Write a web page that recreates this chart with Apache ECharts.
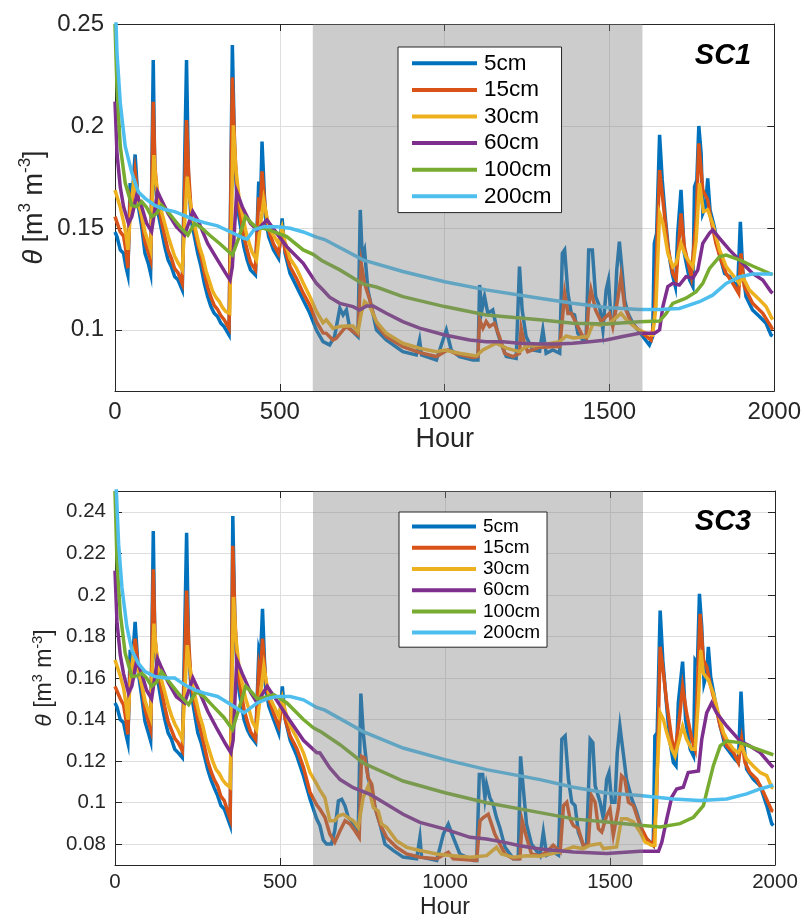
<!DOCTYPE html>
<html>
<head>
<meta charset="utf-8">
<script src="https://cdn.jsdelivr.net/npm/echarts@6/dist/echarts.min.js"></script>
<style>
  html, body { margin: 0; padding: 0; background: #ffffff; }
  #chart { width: 804px; height: 920px; }
</style>
</head>
<body>
<div id="chart"></div>
<script>
// Sensor depths and their line colours
const depths = ['5cm', '15cm', '30cm', '60cm', '100cm', '200cm'];
const lineColors = ['#0072BD', '#D95319', '#EDB120', '#7E2F8E', '#77AC30', '#4DBEEE'];

// Shaded period (hours)
const shadedPeriod = [600, 1600];

// Axis ticks
const hourTicks = [0, 500, 1000, 1500, 2000];
const sc1ThetaTicks = [0.1, 0.15, 0.2, 0.25];
const sc3ThetaTicks = [0.08, 0.1, 0.12, 0.14, 0.16, 0.18, 0.2, 0.22, 0.24];
const thetaRange = [0.07, 0.25];

// Panel labels
const panelNames = ['SC1', 'SC3'];

// ---- SC1: soil water content [hour, theta] ----
const sc1_5cm = [[0,0.148],[6,0.1457],[16,0.1392],[26,0.1375],[33,0.131],[39,0.1269],[46,0.172],[52,0.165],[61,0.186],[71,0.1604],[81,0.1506],[91,0.1375],[101,0.1326],[108,0.1277],[116,0.2323],[121,0.1735],[131,0.1571],[141,0.149],[151,0.1408],[161,0.1343],[171,0.131],[181,0.1261],[191,0.1245],[204,0.1196],[217,0.2323],[223,0.1735],[231,0.1539],[241,0.1457],[251,0.1375],[261,0.131],[271,0.1228],[281,0.1163],[291,0.1114],[301,0.1081],[311,0.1065],[321,0.1032],[331,0.1016],[346,0.0975],[356,0.2397],[363,0.1866],[371,0.1604],[381,0.1506],[391,0.1408],[401,0.1343],[411,0.1294],[426,0.1269],[436,0.1727],[441,0.16],[446,0.1923],[456,0.1555],[466,0.1457],[481,0.1392],[496,0.1351],[507,0.1547],[516,0.1375],[531,0.1277],[551,0.1212],[571,0.1146],[591,0.1081],[611,0.0999],[631,0.0942],[651,0.0926],[666,0.0967],[682,0.1106],[692,0.1073],[702,0.1098],[712,0.1008],[722,0.0991],[737,0.0967],[744,0.1588],[750,0.1359],[757,0.1392],[767,0.1196],[778,0.1114],[793,0.1],[823,0.095],[873,0.0893],[914,0.0877],[924,0.095],[930,0.0877],[975,0.0852],[1005,0.0999],[1020,0.0901],[1045,0.0869],[1086,0.0852],[1101,0.0852],[1106,0.122],[1113,0.1098],[1121,0.1163],[1131,0.1081],[1146,0.1098],[1161,0.0983],[1171,0.0934],[1187,0.0869],[1217,0.086],[1227,0.131],[1235,0.1098],[1247,0.0967],[1267,0.0901],[1288,0.0895],[1298,0.1],[1308,0.0885],[1328,0.0901],[1349,0.0885],[1357,0.1375],[1364,0.1392],[1374,0.1179],[1384,0.1081],[1394,0.1073],[1404,0.0983],[1419,0.095],[1429,0.095],[1437,0.1392],[1448,0.1392],[1458,0.1163],[1470,0.1114],[1480,0.1],[1490,0.1196],[1497,0.1245],[1505,0.1049],[1515,0.1049],[1522,0.1294],[1530,0.1433],[1538,0.1294],[1546,0.1147],[1556,0.1081],[1571,0.1032],[1586,0.1],[1601,0.0967],[1621,0.0926],[1631,0.0967],[1636,0.1424],[1643,0.1473],[1652,0.1956],[1660,0.1735],[1670,0.1539],[1680,0.1375],[1690,0.1277],[1700,0.1212],[1707,0.1473],[1717,0.1686],[1727,0.1375],[1743,0.1245],[1753,0.1212],[1758,0.1702],[1765,0.1735],[1771,0.2],[1778,0.1866],[1783,0.1571],[1791,0.1604],[1798,0.1743],[1805,0.1588],[1818,0.1506],[1833,0.1375],[1849,0.1277],[1864,0.1261],[1879,0.1228],[1889,0.1212],[1897,0.153],[1904,0.1294],[1914,0.1163],[1934,0.1097],[1955,0.1065],[1975,0.1032],[1990,0.0975],[1995,0.097]];

const sc1_15cm = [[0,0.1555],[16,0.148],[26,0.146],[33,0.139],[39,0.1302],[46,0.165],[52,0.162],[61,0.1777],[71,0.164],[81,0.155],[91,0.143],[101,0.138],[108,0.1343],[116,0.2119],[121,0.18],[131,0.162],[141,0.153],[151,0.146],[161,0.139],[171,0.135],[181,0.13],[191,0.128],[204,0.1228],[217,0.2029],[223,0.178],[231,0.158],[241,0.15],[251,0.142],[261,0.136],[271,0.128],[281,0.121],[291,0.116],[301,0.112],[311,0.11],[321,0.107],[331,0.105],[346,0.1007],[356,0.2238],[363,0.19],[371,0.165],[381,0.155],[391,0.146],[401,0.139],[411,0.133],[426,0.1294],[436,0.165],[441,0.158],[446,0.1777],[456,0.159],[466,0.149],[481,0.142],[496,0.1375],[507,0.1485],[516,0.139],[531,0.131],[551,0.125],[571,0.118],[591,0.112],[611,0.104],[631,0.0985],[641,0.0983],[661,0.095],[671,0.0958],[692,0.1],[702,0.1016],[722,0.0991],[737,0.0975],[747,0.1326],[757,0.1228],[773,0.1147],[783,0.1081],[798,0.1016],[823,0.0967],[873,0.0918],[924,0.0888],[975,0.0869],[1000,0.0893],[1010,0.0901],[1035,0.0882],[1086,0.0865],[1101,0.0869],[1106,0.1049],[1116,0.1008],[1126,0.1041],[1136,0.1016],[1151,0.1032],[1166,0.0967],[1182,0.0885],[1207,0.0869],[1227,0.0885],[1232,0.1008],[1242,0.0934],[1252,0.0893],[1288,0.0915],[1349,0.0918],[1357,0.105],[1364,0.1179],[1374,0.108],[1384,0.1081],[1394,0.1049],[1419,0.0967],[1430,0.096],[1437,0.112],[1444,0.1196],[1458,0.1097],[1475,0.104],[1490,0.1065],[1500,0.1081],[1510,0.1016],[1525,0.115],[1535,0.1261],[1546,0.1114],[1566,0.1032],[1601,0.0983],[1626,0.095],[1636,0.1049],[1643,0.1375],[1652,0.1784],[1662,0.1637],[1677,0.1408],[1692,0.1277],[1702,0.1245],[1717,0.1571],[1727,0.1408],[1748,0.1261],[1763,0.1539],[1771,0.1915],[1783,0.1686],[1798,0.1637],[1808,0.1539],[1823,0.1424],[1838,0.1343],[1854,0.1277],[1874,0.1228],[1892,0.1179],[1899,0.1375],[1909,0.1212],[1934,0.113],[1965,0.1081],[1990,0.1016],[1995,0.1]];

const sc1_30cm = [[0,0.1686],[16,0.16],[26,0.153],[33,0.147],[39,0.1392],[46,0.155],[56,0.1719],[66,0.165],[81,0.156],[91,0.148],[101,0.143],[108,0.1392],[118,0.1857],[123,0.175],[131,0.165],[141,0.158],[151,0.152],[161,0.146],[171,0.141],[181,0.136],[191,0.133],[204,0.1294],[219,0.1751],[226,0.165],[236,0.155],[246,0.148],[256,0.141],[266,0.136],[276,0.129],[286,0.124],[296,0.119],[306,0.116],[316,0.114],[326,0.111],[336,0.109],[348,0.1081],[359,0.2003],[366,0.18],[376,0.165],[386,0.157],[396,0.149],[406,0.143],[416,0.138],[429,0.1343],[440,0.15],[451,0.1637],[461,0.155],[471,0.149],[486,0.145],[496,0.1424],[507,0.15],[516,0.143],[531,0.135],[551,0.13],[571,0.123],[591,0.1163],[611,0.109],[631,0.1035],[641,0.1049],[661,0.1008],[682,0.1016],[702,0.1019],[722,0.1019],[737,0.099],[747,0.1081],[757,0.1139],[773,0.1114],[793,0.104],[823,0.0983],[873,0.0934],[924,0.091],[975,0.0893],[1000,0.0901],[1045,0.0885],[1096,0.0872],[1116,0.0901],[1156,0.0934],[1187,0.091],[1227,0.0893],[1247,0.0918],[1288,0.0925],[1349,0.0942],[1369,0.097],[1390,0.096],[1434,0.0967],[1450,0.103],[1470,0.1024],[1500,0.1032],[1535,0.1081],[1551,0.1049],[1581,0.1008],[1611,0.0983],[1631,0.0975],[1641,0.1114],[1652,0.1571],[1662,0.1522],[1677,0.1375],[1692,0.131],[1702,0.1326],[1717,0.1424],[1732,0.1359],[1753,0.131],[1763,0.1441],[1773,0.1719],[1785,0.158],[1798,0.1588],[1813,0.1522],[1834,0.1392],[1854,0.131],[1874,0.1269],[1894,0.1228],[1904,0.1261],[1924,0.1196],[1955,0.1147],[1975,0.1114],[1990,0.1065],[1995,0.105]];

const sc1_60cm = [[0,0.2119],[6,0.1866],[16,0.17],[26,0.1604],[41,0.1522],[51,0.1555],[66,0.1661],[81,0.1604],[96,0.1522],[111,0.1482],[129,0.1678],[141,0.1637],[161,0.1571],[186,0.1506],[211,0.1465],[236,0.158],[251,0.1539],[281,0.1424],[311,0.1343],[336,0.1277],[349,0.1244],[356,0.131],[369,0.1678],[386,0.1604],[411,0.1522],[431,0.149],[461,0.1539],[491,0.1473],[521,0.1408],[571,0.1326],[611,0.1228],[631,0.1195],[651,0.116],[682,0.113],[722,0.1114],[742,0.1097],[763,0.1117],[783,0.1117],[823,0.1081],[873,0.104],[924,0.1008],[1000,0.0975],[1076,0.095],[1126,0.0942],[1177,0.0942],[1227,0.0934],[1288,0.0931],[1339,0.0931],[1389,0.0934],[1440,0.0942],[1490,0.095],[1540,0.0967],[1591,0.0983],[1637,0.0983],[1652,0.1],[1662,0.1114],[1677,0.1212],[1692,0.1228],[1712,0.122],[1732,0.1261],[1753,0.1253],[1768,0.1294],[1783,0.1424],[1803,0.1473],[1813,0.149],[1834,0.1449],[1864,0.1392],[1894,0.1343],[1934,0.1277],[1965,0.1244],[1990,0.1187],[1995,0.118]];

const sc1_100cm = [[0,0.25],[6,0.219],[16,0.19],[31,0.172],[51,0.161],[66,0.1604],[81,0.1629],[96,0.16],[111,0.1555],[126,0.157],[141,0.1612],[160,0.158],[180,0.154],[200,0.15],[221,0.1465],[241,0.1522],[260,0.1503],[290,0.146],[320,0.142],[356,0.1367],[375,0.145],[396,0.1555],[415,0.1522],[431,0.1498],[451,0.1498],[481,0.1482],[521,0.1457],[571,0.1392],[601,0.137],[627,0.134],[682,0.1294],[752,0.1225],[793,0.121],[873,0.1163],[1000,0.1114],[1126,0.1073],[1288,0.1049],[1389,0.1032],[1490,0.1029],[1591,0.104],[1652,0.1043],[1672,0.108],[1692,0.113],[1732,0.1155],[1763,0.1187],[1783,0.1228],[1803,0.13],[1834,0.1359],[1854,0.1367],[1894,0.1343],[1934,0.1313],[1990,0.1274],[1995,0.127]];

const sc1_200cm = [[0,0.265],[6,0.236],[16,0.2113],[31,0.19],[51,0.1771],[71,0.1676],[91,0.1645],[121,0.161],[151,0.159],[181,0.158],[211,0.156],[241,0.154],[271,0.1526],[311,0.151],[351,0.148],[391,0.1449],[401,0.1445],[421,0.149],[451,0.1506],[491,0.1506],[531,0.1498],[571,0.148],[611,0.1455],[636,0.1443],[752,0.1343],[873,0.1286],[1000,0.1236],[1126,0.1196],[1288,0.1155],[1389,0.113],[1490,0.111],[1591,0.11],[1652,0.11],[1712,0.1105],[1773,0.1138],[1813,0.117],[1854,0.1228],[1894,0.126],[1934,0.1274],[1995,0.1274]];

// ---- SC3: soil water content [hour, theta] ----
const sc3_5cm = [[0,0.148],[6,0.146],[16,0.14],[26,0.1385],[33,0.133],[39,0.1289],[46,0.1736],[52,0.166],[61,0.187],[71,0.1623],[81,0.151],[91,0.139],[101,0.1336],[108,0.1297],[116,0.2307],[121,0.175],[131,0.1576],[141,0.148],[151,0.14],[161,0.1336],[171,0.1305],[181,0.1257],[191,0.1241],[204,0.1217],[217,0.2299],[223,0.175],[231,0.1525],[241,0.143],[251,0.1336],[261,0.1289],[271,0.1224],[281,0.116],[291,0.111],[301,0.107],[311,0.1034],[321,0.0986],[331,0.097],[349,0.0891],[357,0.238],[363,0.1878],[371,0.159],[381,0.149],[391,0.14],[401,0.1352],[411,0.132],[426,0.1289],[436,0.1734],[441,0.17],[447,0.1933],[456,0.156],[466,0.1465],[481,0.14],[496,0.1336],[507,0.156],[516,0.14],[531,0.13],[551,0.1225],[571,0.113],[591,0.1018],[611,0.0922],[621,0.089],[631,0.082],[641,0.0801],[656,0.0801],[666,0.0865],[677,0.1008],[687,0.1016],[697,0.0984],[707,0.0928],[717,0.0913],[727,0.0873],[737,0.0849],[745,0.1525],[752,0.1342],[757,0.1263],[767,0.112],[778,0.1056],[788,0.0976],[803,0.0897],[818,0.0801],[843,0.077],[873,0.0738],[914,0.073],[924,0.0833],[929,0.0738],[975,0.0722],[995,0.0849],[1010,0.0897],[1025,0.0833],[1045,0.0753],[1086,0.0722],[1096,0.0722],[1104,0.1135],[1114,0.1135],[1121,0.1024],[1126,0.1088],[1136,0.1024],[1146,0.0992],[1156,0.0928],[1166,0.0881],[1182,0.0785],[1207,0.073],[1222,0.073],[1229,0.1223],[1237,0.1072],[1247,0.0897],[1262,0.0801],[1288,0.0745],[1298,0.0859],[1308,0.0747],[1328,0.0763],[1344,0.0747],[1354,0.1305],[1364,0.1321],[1374,0.1114],[1384,0.1002],[1394,0.0986],[1404,0.0859],[1419,0.0795],[1429,0.0795],[1440,0.1305],[1448,0.1289],[1455,0.1082],[1470,0.1002],[1480,0.0922],[1490,0.1113],[1497,0.1145],[1505,0.1002],[1515,0.1002],[1522,0.1241],[1530,0.1368],[1540,0.1241],[1550,0.1113],[1566,0.1018],[1581,0.0954],[1601,0.0843],[1621,0.0811],[1631,0.0795],[1636,0.1321],[1643,0.1336],[1652,0.1925],[1660,0.1686],[1670,0.1495],[1682,0.1289],[1692,0.1193],[1700,0.1177],[1707,0.148],[1720,0.1679],[1729,0.14],[1743,0.1257],[1753,0.1225],[1758,0.1686],[1765,0.167],[1771,0.2005],[1778,0.1846],[1785,0.1575],[1793,0.1623],[1798,0.175],[1805,0.1607],[1818,0.1495],[1834,0.1368],[1849,0.1273],[1864,0.1241],[1879,0.1209],[1889,0.1193],[1897,0.1535],[1904,0.1304],[1914,0.1161],[1934,0.1113],[1955,0.1082],[1975,0.0986],[1990,0.0899],[1995,0.089]];

const sc3_15cm = [[0,0.156],[16,0.15],[26,0.147],[33,0.14],[39,0.1328],[46,0.165],[52,0.162],[61,0.179],[71,0.165],[81,0.156],[91,0.145],[101,0.139],[108,0.1352],[116,0.2123],[121,0.18],[131,0.163],[141,0.154],[151,0.146],[161,0.139],[171,0.135],[181,0.131],[191,0.129],[204,0.125],[217,0.2021],[223,0.178],[231,0.157],[241,0.148],[251,0.14],[261,0.134],[271,0.127],[281,0.12],[291,0.115],[301,0.111],[311,0.108],[321,0.103],[331,0.101],[349,0.0922],[357,0.2236],[363,0.19],[371,0.164],[381,0.154],[391,0.145],[401,0.139],[411,0.134],[426,0.1305],[436,0.165],[441,0.16],[447,0.179],[456,0.16],[466,0.15],[481,0.143],[496,0.1368],[507,0.149],[516,0.14],[531,0.132],[551,0.126],[571,0.117],[591,0.105],[611,0.099],[621,0.0968],[636,0.093],[651,0.0849],[666,0.0809],[682,0.0865],[697,0.0913],[712,0.0897],[727,0.0865],[740,0.0833],[747,0.1223],[757,0.1215],[767,0.112],[778,0.1088],[788,0.0976],[803,0.0897],[823,0.0833],[853,0.0785],[884,0.0753],[924,0.0737],[975,0.073],[1010,0.0761],[1025,0.073],[1096,0.0722],[1106,0.0913],[1116,0.0928],[1131,0.0944],[1141,0.0897],[1151,0.0849],[1166,0.0801],[1182,0.0753],[1207,0.073],[1227,0.073],[1234,0.0913],[1247,0.0833],[1262,0.0753],[1288,0.0745],[1308,0.0763],[1328,0.0795],[1349,0.0763],[1359,0.0986],[1369,0.1002],[1379,0.0922],[1389,0.089],[1404,0.0875],[1419,0.0795],[1434,0.0795],[1444,0.1034],[1455,0.1002],[1465,0.0875],[1475,0.0859],[1490,0.0938],[1500,0.097],[1510,0.0843],[1525,0.097],[1535,0.1129],[1545,0.1113],[1556,0.1002],[1571,0.0986],[1591,0.0891],[1611,0.0827],[1631,0.0795],[1641,0.1002],[1652,0.175],[1662,0.1623],[1672,0.148],[1687,0.1305],[1697,0.1241],[1710,0.14],[1720,0.1559],[1732,0.1432],[1748,0.1305],[1758,0.1257],[1765,0.1559],[1773,0.1909],[1783,0.1686],[1793,0.1655],[1803,0.1575],[1818,0.148],[1834,0.1368],[1854,0.1273],[1874,0.1241],[1889,0.1193],[1899,0.1305],[1909,0.1193],[1924,0.1145],[1945,0.1113],[1965,0.105],[1990,0.0962],[1995,0.096]];

const sc3_30cm = [[0,0.1687],[16,0.161],[26,0.155],[33,0.148],[39,0.14],[46,0.158],[56,0.1718],[66,0.166],[81,0.157],[91,0.149],[101,0.144],[108,0.1408],[118,0.1862],[123,0.176],[131,0.166],[141,0.159],[151,0.153],[161,0.147],[171,0.142],[181,0.138],[191,0.135],[204,0.1305],[219,0.1758],[226,0.166],[236,0.156],[246,0.149],[256,0.142],[266,0.137],[276,0.13],[286,0.125],[296,0.12],[306,0.116],[316,0.114],[326,0.111],[336,0.109],[349,0.1074],[359,0.199],[366,0.18],[376,0.165],[386,0.157],[396,0.15],[406,0.145],[416,0.139],[429,0.1352],[440,0.151],[451,0.1655],[461,0.156],[471,0.15],[486,0.145],[496,0.1416],[507,0.15],[516,0.144],[531,0.137],[551,0.131],[571,0.124],[591,0.1145],[611,0.109],[621,0.106],[636,0.1024],[651,0.0913],[666,0.0913],[677,0.0937],[692,0.0944],[707,0.0928],[722,0.0913],[737,0.0881],[752,0.1024],[767,0.108],[783,0.0976],[798,0.096],[808,0.0897],[823,0.0881],[853,0.0817],[884,0.0785],[924,0.077],[975,0.0753],[1025,0.0745],[1076,0.0737],[1126,0.0745],[1156,0.0785],[1171,0.0753],[1207,0.0737],[1247,0.0745],[1288,0.0742],[1349,0.0763],[1389,0.0787],[1419,0.0779],[1440,0.0795],[1470,0.0803],[1480,0.0779],[1520,0.0787],[1535,0.0922],[1551,0.0922],[1571,0.0907],[1591,0.0859],[1606,0.0811],[1626,0.0795],[1636,0.0795],[1641,0.1082],[1652,0.1432],[1662,0.14],[1672,0.1336],[1687,0.1257],[1697,0.1225],[1710,0.1305],[1720,0.1368],[1732,0.1305],[1748,0.1257],[1758,0.1257],[1768,0.1495],[1775,0.1734],[1783,0.1623],[1798,0.1591],[1813,0.1527],[1828,0.1432],[1844,0.1336],[1859,0.1289],[1874,0.1257],[1889,0.1241],[1899,0.1273],[1914,0.121],[1934,0.1177],[1955,0.1145],[1975,0.113],[1990,0.1074],[1995,0.107]];

const sc3_60cm = [[0,0.2116],[6,0.187],[16,0.171],[26,0.162],[41,0.1527],[51,0.156],[66,0.1686],[81,0.162],[96,0.154],[111,0.15],[129,0.1694],[141,0.165],[161,0.158],[186,0.151],[211,0.148],[236,0.16],[251,0.155],[281,0.144],[311,0.135],[336,0.128],[351,0.1241],[358,0.13],[369,0.1686],[386,0.162],[411,0.153],[431,0.148],[461,0.156],[491,0.149],[521,0.1416],[571,0.13],[611,0.1241],[621,0.1239],[651,0.1167],[682,0.1111],[722,0.1072],[773,0.104],[823,0.0992],[873,0.0944],[924,0.0905],[1000,0.0873],[1076,0.0833],[1126,0.0825],[1177,0.081],[1227,0.0793],[1288,0.0777],[1389,0.0763],[1490,0.0755],[1591,0.0766],[1647,0.0766],[1657,0.081],[1672,0.0922],[1687,0.1026],[1702,0.1066],[1722,0.1074],[1737,0.1145],[1768,0.1153],[1778,0.1304],[1793,0.1432],[1808,0.148],[1823,0.1432],[1854,0.1368],[1894,0.1297],[1924,0.1273],[1955,0.1241],[1990,0.1177],[1995,0.117]];

const sc3_100cm = [[0,0.25],[6,0.2164],[16,0.191],[31,0.1718],[51,0.1607],[66,0.161],[81,0.1623],[96,0.16],[111,0.156],[126,0.158],[141,0.1631],[160,0.159],[180,0.155],[200,0.151],[223,0.1472],[246,0.1535],[270,0.151],[300,0.146],[330,0.141],[356,0.1352],[375,0.145],[396,0.156],[415,0.153],[431,0.15],[451,0.1505],[481,0.152],[521,0.148],[571,0.14],[601,0.136],[625,0.134],[682,0.1279],[752,0.1191],[873,0.1104],[1000,0.1048],[1126,0.1],[1288,0.0952],[1389,0.0922],[1490,0.0907],[1591,0.0891],[1652,0.0883],[1712,0.0899],[1753,0.093],[1783,0.0986],[1798,0.1082],[1813,0.1177],[1834,0.1273],[1854,0.1297],[1894,0.1289],[1934,0.1265],[1990,0.1233],[1995,0.123]];

const sc3_200cm = [[0,0.265],[11,0.2244],[21,0.2037],[36,0.1846],[51,0.1734],[71,0.167],[91,0.1631],[121,0.1607],[151,0.16],[181,0.16],[211,0.1567],[241,0.1543],[271,0.1527],[311,0.1511],[351,0.1472],[391,0.1432],[396,0.1432],[431,0.148],[461,0.15],[491,0.1511],[531,0.1511],[571,0.1495],[611,0.1458],[636,0.1445],[752,0.1342],[873,0.1263],[1000,0.1207],[1126,0.1159],[1288,0.1111],[1389,0.1074],[1490,0.1047],[1591,0.1034],[1692,0.1018],[1773,0.101],[1854,0.1018],[1914,0.1042],[1955,0.1066],[1990,0.1082],[1995,0.1085]];

const panels = [
  [sc1_5cm, sc1_15cm, sc1_30cm, sc1_60cm, sc1_100cm, sc1_200cm],
  [sc3_5cm, sc3_15cm, sc3_30cm, sc3_60cm, sc3_100cm, sc3_200cm]
];

const FONT = '"Liberation Sans", Arial, Helvetica, sans-serif';
const AXIS_COLOR = '#262626';

// Layout of each panel
const layout = [
  { top: 24, height: 367, tickFont: 24, labelFont: 27, legendFont: 22.5, legendRow: 26.6,
    legendLeft: 398, legendTop: 47, legendPad: [3, 10, 3, 14], legendIcon: 65,
    yTicks: sc1ThetaTicks, xLabelMargin: 9, yLabelMargin: 11, xNameGap: 35, yNameGap: 64,
    supFont: 17, tagY: 56 },
  { top: 491, height: 377, tickFont: 20.5, labelFont: 23, legendFont: 19, legendRow: 21.2,
    legendLeft: 399, legendTop: 512, legendPad: [4, 7, 4, 13], legendIcon: 64,
    yTicks: sc3ThetaTicks, xLabelMargin: 7, yLabelMargin: 9, xNameGap: 31, yNameGap: 56,
    supFont: 14.5, tagY: 522 }
];

// plain numbers, no thousands separator
const plainNumber = function (v) { return String(v); };

const grids = [], xAxes = [], yAxes = [], series = [], legends = [], graphics = [];

layout.forEach(function (L, p) {
  grids.push({ left: 115, right: 29, top: L.top, height: L.height, containLabel: false });

  const lineStyle = { color: AXIS_COLOR, width: 1 };
  const tick = { show: true, inside: true, length: 7, lineStyle: lineStyle };

  // bottom hour axis with labels and grid lines
  xAxes.push({
    gridIndex: p, type: 'value', position: 'bottom', min: 0, max: 2000, interval: 500,
    axisLine: { show: true, onZero: false, lineStyle: lineStyle },
    axisTick: tick,
    axisLabel: { show: true, fontSize: L.tickFont, color: AXIS_COLOR, fontFamily: FONT,
                 margin: L.xLabelMargin, customValues: hourTicks, formatter: plainNumber },
    splitLine: { show: true, lineStyle: { color: '#dedede', width: 1 } },
    name: 'Hour', nameLocation: 'middle', nameGap: L.xNameGap, nameMoveOverlap: false,
    nameTextStyle: { fontSize: L.labelFont, color: AXIS_COLOR, fontFamily: FONT }
  });
  // top frame edge with mirrored ticks
  xAxes.push({
    gridIndex: p, type: 'value', position: 'top', min: 0, max: 2000, interval: 500,
    axisLine: { show: true, onZero: false, lineStyle: lineStyle },
    axisTick: tick, axisLabel: { show: false }, splitLine: { show: false }
  });

  const yTick = Object.assign({}, tick, { customValues: L.yTicks });
  yAxes.push({
    gridIndex: p, type: 'value', position: 'left', min: thetaRange[0], max: thetaRange[1],
    axisLine: { show: true, onZero: false, lineStyle: lineStyle },
    axisTick: yTick,
    axisLabel: { show: true, fontSize: L.tickFont, color: AXIS_COLOR, fontFamily: FONT,
                 margin: L.yLabelMargin, customValues: L.yTicks, formatter: plainNumber },
    splitLine: { show: true, lineStyle: { color: '#dedede', width: 1 } },
    name: '{th|θ} [m{sup|3} m{sup|-3}]', nameLocation: 'middle', nameRotate: 90,
    nameGap: L.yNameGap, nameMoveOverlap: false,
    nameTextStyle: {
      fontSize: L.labelFont, color: AXIS_COLOR, fontFamily: FONT,
      rich: {
        th: { fontSize: L.labelFont, fontStyle: 'italic', fontFamily: FONT, color: AXIS_COLOR, lineHeight: L.labelFont * 1.25 },
        sup: { fontSize: L.supFont, fontFamily: FONT, color: AXIS_COLOR, verticalAlign: 'top', lineHeight: L.supFont }
      },
      lineHeight: L.labelFont * 1.25
    }
  });
  yAxes.push({
    gridIndex: p, type: 'value', position: 'right', min: thetaRange[0], max: thetaRange[1],
    axisLine: { show: true, onZero: false, lineStyle: lineStyle },
    axisTick: yTick, axisLabel: { show: false, customValues: L.yTicks }, splitLine: { show: false }
  });

  depths.forEach(function (d, i) {
    series.push({
      name: d, type: 'line', xAxisIndex: p * 2, yAxisIndex: p * 2,
      data: panels[p][i], showSymbol: false, symbol: 'none', clip: true,
      lineStyle: { color: lineColors[i], width: 3.5, join: 'miter' },
      itemStyle: { color: lineColors[i] },
      z: 2 + i * 0.01
    });
  });

  // translucent shading over the dry-down period, drawn above the lines
  series.push({
    name: 'shade' + p, type: 'line', xAxisIndex: p * 2, yAxisIndex: p * 2, data: [],
    z: 8, silent: true,
    markArea: {
      silent: true, z: 8,
      itemStyle: { color: 'rgba(128,128,128,0.4)', borderWidth: 0 },
      data: [[{ xAxis: shadedPeriod[0] }, { xAxis: shadedPeriod[1] }]]
    }
  });

  legends.push({
    data: depths, orient: 'vertical', left: L.legendLeft, top: L.legendTop,
    icon: 'rect', itemWidth: L.legendIcon, itemHeight: 4, itemGap: 0,
    padding: L.legendPad, borderColor: AXIS_COLOR, borderWidth: 1, backgroundColor: '#ffffff',
    selectedMode: false, z: 20,
    textStyle: { fontSize: L.legendFont, lineHeight: L.legendRow, color: '#000', fontFamily: FONT, padding: [0, 0, 0, 2] }
  });

  graphics.push({
    type: 'text', x: 723, y: L.tagY, z: 20,
    style: { text: panelNames[p], fill: '#000', font: 'italic bold 29px ' + FONT, align: 'center', verticalAlign: 'middle' }
  });
});

const chart = echarts.init(document.getElementById('chart'), null, { renderer: 'canvas' });
chart.setOption({
  animation: false,
  backgroundColor: '#ffffff',
  grid: grids, xAxis: xAxes, yAxis: yAxes, series: series, legend: legends, graphic: graphics
});
</script>
</body>
</html>
